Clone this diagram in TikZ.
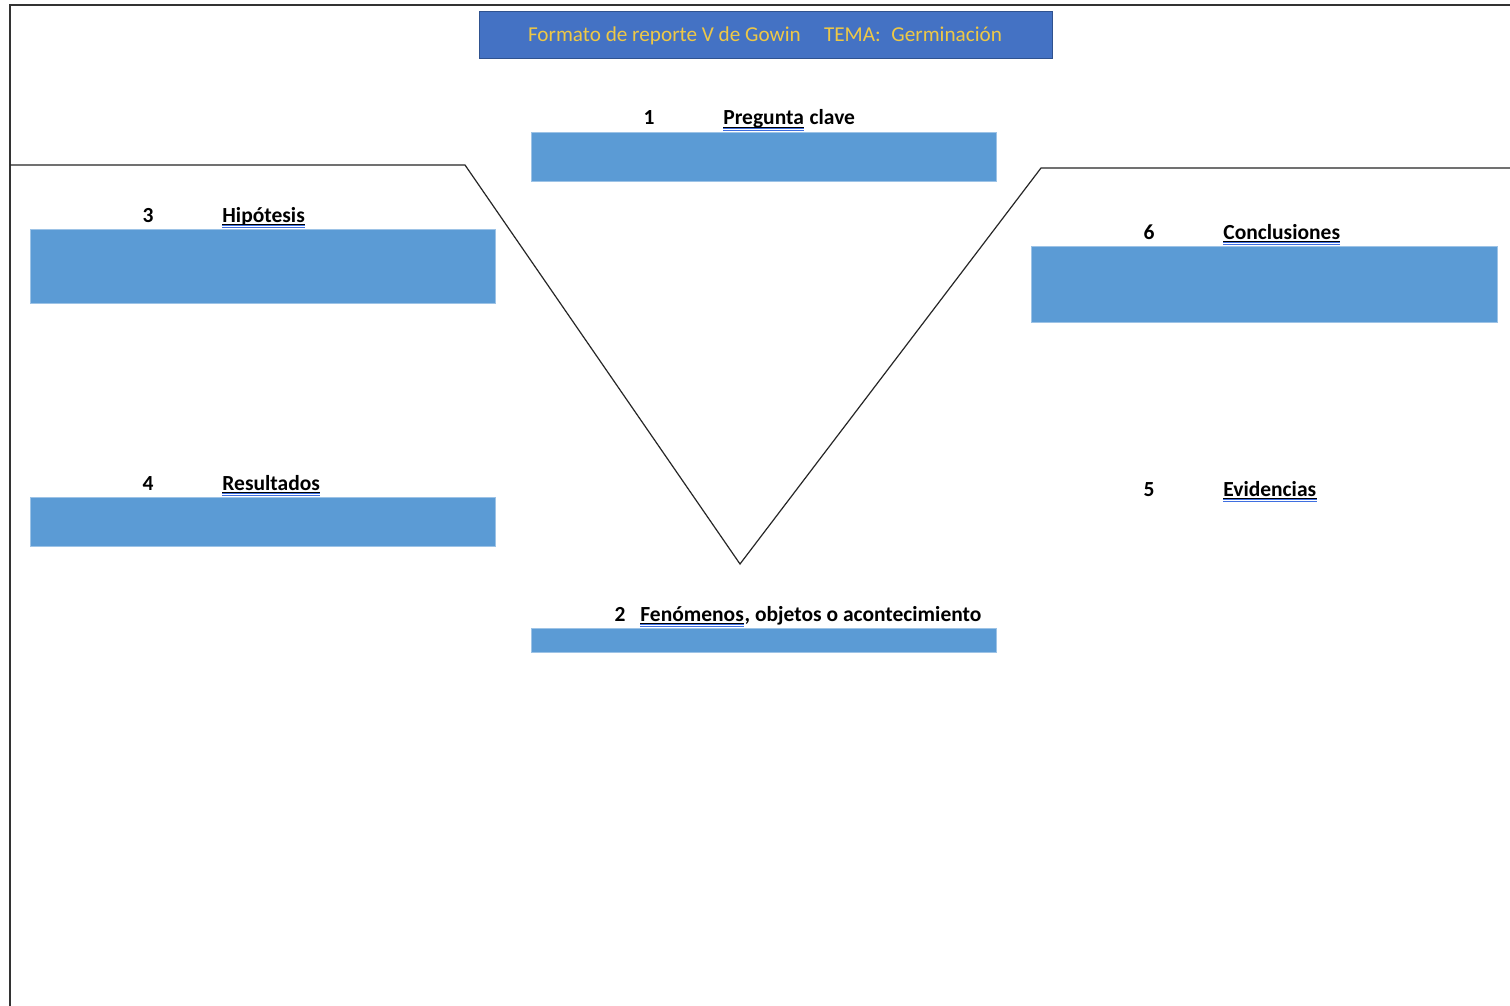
\documentclass[tikz,border=0pt]{standalone}
\usepackage{fontspec}
\setmainfont{Carlito}
\definecolor{boxblue}{HTML}{5B9BD5}
\definecolor{titleblue}{HTML}{4472C4}
\definecolor{titleedge}{HTML}{2F528F}
\definecolor{gold}{RGB}{238,200,70}
\definecolor{spell}{HTML}{3F6FE0}
\begin{document}
\begin{tikzpicture}[x=0.5pt,y=-0.5pt,
  bluebox/.style={fill=boxblue,draw=boxblue!60!white,line width=0.3pt},
  lbl/.style={font=\bfseries\fontsize{10.75}{12}\selectfont,inner sep=0pt,anchor=base west},
  num/.style={font=\bfseries\fontsize{10.75}{12}\selectfont,inner sep=0pt,anchor=base},
  vline/.style={draw=black!85,line width=0.6pt},
  frame/.style={draw=black!80,line width=1pt}]
\useasboundingbox (0,0) rectangle (1510,1006);
\fill[white] (0,0) rectangle (1510,1006);
% outer frame
\draw[frame] (1510,5) -- (10,5) -- (10,1006);
% V shape
\coordinate (l0) at (10,165);
\coordinate (l1) at (465,165);
\coordinate (vb) at (740,564);
\coordinate (r1) at (1041,168);
\coordinate (r0) at (1510,168);
\draw[vline] (l0) -- (l1) -- (vb) -- (r1) -- (r0);
% title
\node[fill=titleblue,draw=titleedge,line width=0.4pt,minimum width=286.5pt,minimum height=23.5pt,inner sep=0pt] (title) at (765.5,34.5) {};
\node[inner sep=0pt,anchor=base,font=\fontsize{10.6}{12}\selectfont,text=gold] (titletext) at (765,42) {Formato de reporte V de Gowin\hspace{1.1em}TEMA:\hspace{0.5em}Germinación};
% boxes
\path[bluebox] (531,132) rectangle (996,181);
\path[bluebox] (30,229) rectangle (495,303);
\path[bluebox] (1031,246) rectangle (1497,322);
\path[bluebox] (30,497) rectangle (495,546);
\path[bluebox] (531,628) rectangle (996,652);
% labels
\node[num] (n1) at (649,125) {1};
\node[lbl] (t1) at (723,125) {Pregunta};
\node[lbl] (t1b) at (t1.base east) {\ clave};
\node[num] (n3) at (148,222) {3};
\node[lbl] (t3) at (222,222) {Hipótesis};
\node[num] (n6) at (1149,239) {6};
\node[lbl] (t6) at (1223,239) {Conclusiones};
\node[num] (n4) at (148,490) {4};
\node[lbl] (t4) at (222,490) {Resultados};
\node[num] (n5) at (1149,496) {5};
\node[lbl] (t5) at (1223,496) {Evidencias};
\node[num] (n2) at (620,621) {2};
\node[lbl] (t2) at (640,621) {Fenómenos};
\node[lbl] (t2b) at (t2.base east) {, objetos o acontecimiento};
% underlines
\foreach \t in {t1,t3,t6,t4,t5,t2}{
  \draw[black,line width=0.45pt] ([yshift=-1.1pt]\t.base west) -- ([yshift=-1.1pt]\t.base east);
  \draw[spell,line width=0.35pt] ([yshift=-1.9pt]\t.base west) -- ([yshift=-1.9pt]\t.base east);
  \draw[spell,line width=0.35pt] ([yshift=-2.6pt]\t.base west) -- ([yshift=-2.6pt]\t.base east);
}
\end{tikzpicture}
\end{document}
